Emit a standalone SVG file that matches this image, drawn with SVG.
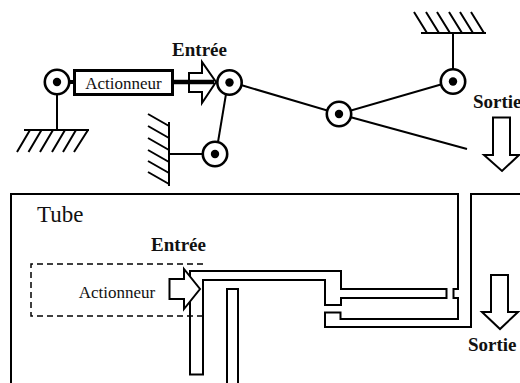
<svg xmlns="http://www.w3.org/2000/svg" width="520" height="383" viewBox="0 0 520 383">
<style>
text{font-family:"Liberation Serif","Times New Roman",serif;fill:#111}
.b{font-weight:bold;font-size:19px}
.a{font-size:17px}
.l{fill:none;stroke:#000;stroke-width:2;stroke-linecap:butt;stroke-linejoin:miter}
.r{fill:#fff;stroke:#000;stroke-width:2.6}
.d{fill:#000;stroke:none}
.arrow{fill:#fff;stroke:#000;stroke-width:2}
</style>
<defs>
<g id="pivot"><circle class="r" r="12.2"/><circle class="d" r="4.2"/></g>
</defs>
<rect width="520" height="383" fill="#fff"/>
<g id="connectors">
<path class="l" d="M57 94V130"/>
<path class="l" d="M241 85L339 114L453 81"/>
<path class="l" d="M339 114L467 149"/>
<path class="l" d="M226 94L218 142"/>
<path class="l" d="M170 154H203"/>
<path class="l" d="M453 33V69"/>
</g>
<g id="ground-left">
<path class="l" d="M24 130H89M30 130L17 152M41.500 130L28.500 152M53 130L40 152M65 130L52 152M76 130L63 152M88 130L74 152"/>
</g>
<g id="ground-wall">
<path class="l" d="M169 122V186M148 114L169 126M148 126L169 138M148 138L169 150M148 150L169 162M148 161L169 173M148 172L169 184"/>
</g>
<g id="ground-top">
<path class="l" d="M421 33H486M414 12L427 33M426 12L439 33M437 12L450 33M449 12L462 33M460 12L473 33M471 12L484 33"/>
</g>
<g id="pivot-actuator"><use href="#pivot" x="57" y="82"/></g>
<g id="actuator">
<path d="M69 82H74" stroke="#000" stroke-width="4"/>
<rect x="74.500" y="70.500" width="98" height="24" fill="#fff" stroke="#000" stroke-width="3"/>
<text class="a" x="123.500" y="89" text-anchor="middle">Actionneur</text>
</g>
<g id="input-arrow-top">
<path class="arrow" d="M189 73H202V62L216 82L202 103V92H189Z" fill-opacity="0"/>
<path d="M172 82H214" fill="none" stroke="#000" stroke-width="4.500"/>
</g>
<g id="pivot-input"><use href="#pivot" x="229.500" y="82.500"/></g>
<g id="pivot-wall"><use href="#pivot" x="215" y="154"/></g>
<g id="pivot-middle"><use href="#pivot" x="339" y="114"/></g>
<g id="pivot-top"><use href="#pivot" x="453" y="81.500"/></g>
<text class="b" x="199.500" y="56" text-anchor="middle">Entrée</text>
<text class="b" x="473" y="108">Sortie</text>
<g id="output-arrow-top"><path class="arrow" d="M493 117.500H510V155H519L502 171L484 155H493Z"/></g>
<g id="tube">
<path class="l" d="M11 383V194H458V289H453.500V298H458V319H340.500V312.500H325V327H471V194H520"/>
</g>
<g id="channel">
<path class="l" d="M190 271H341V289H446.500V298H341V305H325V280H203V374.500H190Z"/>
<path class="l" d="M227 383V289H238V383"/>
</g>
<g id="actuator-bottom">
<path d="M203 264H31V316H203" fill="none" stroke="#000" stroke-width="1.500" stroke-dasharray="6 4"/>
<text class="a" x="117" y="298" text-anchor="middle">Actionneur</text>
</g>
<g id="input-arrow-bottom"><path class="arrow" d="M169.500 279H184V269L200 289L184 309V299H169.500Z"/></g>
<text x="37" y="222" font-size="23">Tube</text>
<text class="b" x="178.500" y="251" text-anchor="middle">Entrée</text>
<g id="output-arrow-bottom"><path class="arrow" d="M491 275H508V312H518L500 329L482 312H491Z"/></g>
<text class="b" x="468" y="351">Sortie</text>
</svg>
